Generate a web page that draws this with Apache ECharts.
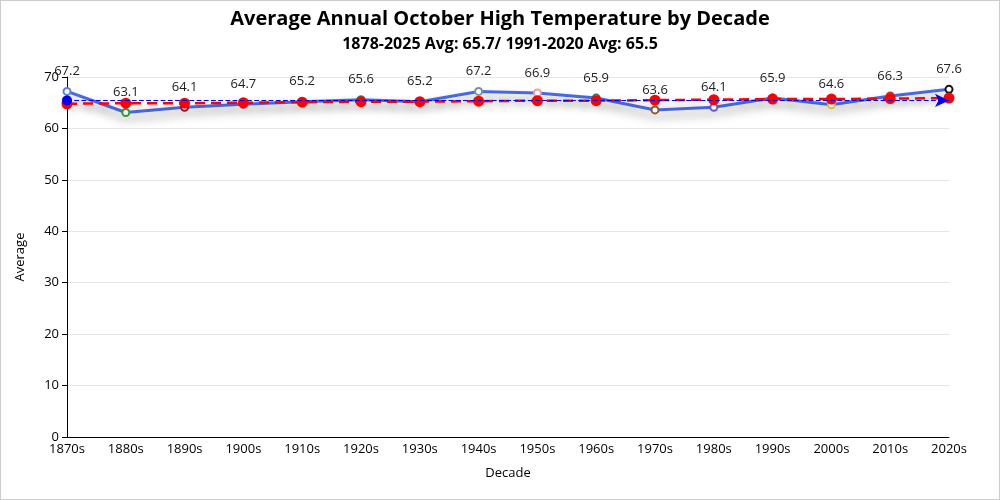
<!DOCTYPE html>
<html>
<head>
<meta charset="utf-8">
<script src="https://cdn.jsdelivr.net/npm/echarts@6/dist/echarts.min.js"></script>
<style>
html,body{margin:0;padding:0;background:#fff;}
#main{width:998px;height:498px;border:1px solid #ccc;}
</style>
</head>
<body>
<div id="main"></div>
<script>
var decades = ['1870s','1880s','1890s','1900s','1910s','1920s','1930s','1940s','1950s','1960s','1970s','1980s','1990s','2000s','2010s','2020s'];
var averages = [67.2,63.1,64.1,64.7,65.2,65.6,65.2,67.2,66.9,65.9,63.6,64.1,65.9,64.6,66.3,67.6];
var trend = [64.8,64.9,64.9,65.0,65.1,65.2,65.2,65.3,65.4,65.4,65.5,65.6,65.7,65.7,65.8,65.9];
var pointColors = ['#5b7fd9','#2ca02c','#8b1a3a','#8e3a8e','#c0392b','#2e8b8b','#555555','#6a95a8','#e0a0a8','#2f6f6f','#8b5a2b','#6a5acd','#3355cc','#d4c74a','#cc3333','#111111'];

var chart = echarts.init(document.getElementById('main'));
var font = '"Open Sans", "Noto Sans", sans-serif';
chart.setOption({
  animation:false,
  textStyle:{fontFamily:font},
  title:{
    text:'Average Annual October High Temperature by Decade',
    subtext:'1878-2025 Avg: 65.7/ 1991-2020 Avg: 65.5',
    left:'center', top:3, itemGap:7,
    textStyle:{fontSize:20,fontWeight:'bold',color:'#000',fontFamily:font},
    subtextStyle:{fontSize:16,fontWeight:'bold',color:'#000',fontFamily:font}
  },
  grid:{left:66,right:50,top:76,bottom:62},
  xAxis:{
    type:'category', data:decades, boundaryGap:false,
    name:'Decade', nameLocation:'middle', nameGap:30,
    nameTextStyle:{color:'#000',fontSize:13},
    axisLine:{lineStyle:{color:'#000'}},
    axisTick:{show:false},
    axisLabel:{color:'#000',fontSize:13,margin:6}
  },
  yAxis:{
    type:'value', min:0, max:70, interval:10,
    name:'Average', nameLocation:'middle', nameGap:40,
    nameTextStyle:{color:'#000',fontSize:13},
    axisLine:{show:true,lineStyle:{color:'#000'}},
    axisTick:{show:true,lineStyle:{color:'#000'}},
    axisLabel:{color:'#000',fontSize:13},
    splitLine:{lineStyle:{color:'#e6e6e6'}}
  },
  series:[
    {
      name:'Trend', type:'line', data:trend,
      symbol:'circle', symbolSize:11,
      itemStyle:{color:'#ff0000'},
      lineStyle:{color:'#ff0000',width:2.5,type:[10,6],shadowColor:'rgba(0,0,0,0.35)',shadowBlur:8,shadowOffsetY:4},
      z:3
    },
    {
      name:'Average', type:'line', data:averages.map(function(v,i){return {value:v,itemStyle:{color:pointColors[i]}};}),
      symbol:'emptyCircle', symbolSize:7,
      lineStyle:{color:'#4a69e0',width:3,shadowColor:'rgba(0,0,0,0.4)',shadowBlur:10,shadowOffsetY:6},
      itemStyle:{color:'#4a69e0',borderWidth:2},
      label:{show:true,position:'top',distance:9,color:'#222',fontSize:13},
      markLine:{
        symbol:['circle','arrow'], symbolSize:[10,14],
        data:[{type:'average'}],
        label:{show:false},
        lineStyle:{color:'#0000ee',type:'dashed',width:1.2},
        itemStyle:{color:'#0000ee'}
      },
      z:2
    }
  ]
});
</script>
</body>
</html>
